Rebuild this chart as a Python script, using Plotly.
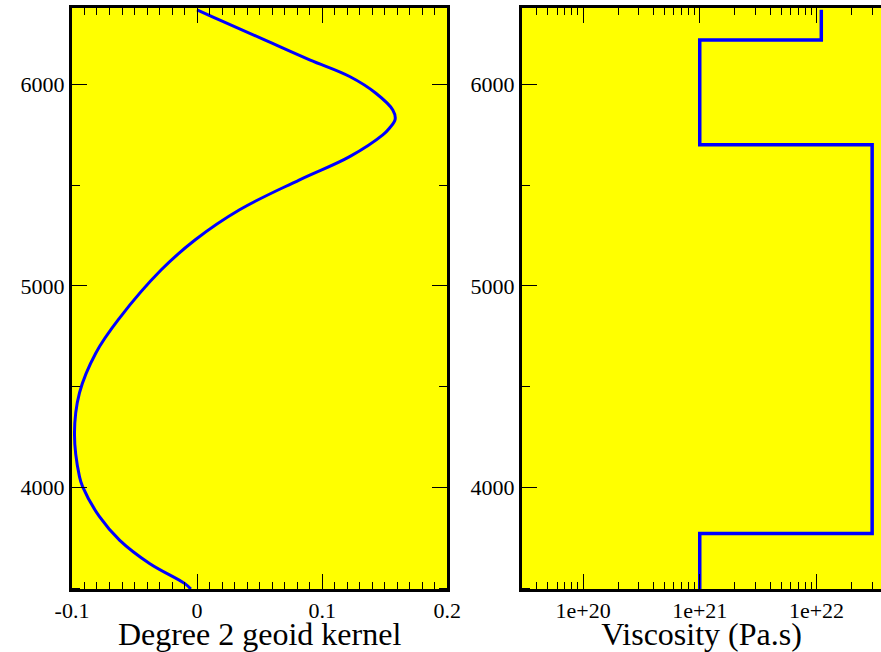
import plotly.graph_objects as go

# Degree-2 geoid kernel as a function of radius (km)
kernel_radius = [6371, 6321, 6222, 6123, 6040, 5957, 5874, 5828, 5783, 5750, 5642,
                 5527, 5378, 5229, 5080, 4840, 4666, 4469, 4268, 4053, 4003,
                 3854, 3738, 3622, 3523, 3495]
kernel_value = [0.0, 0.0178, 0.054, 0.090, 0.122, 0.143, 0.1565, 0.1584, 0.1538, 0.1485,
                0.122, 0.082, 0.034, -0.0014, -0.0286, -0.062, -0.081, -0.094,
                -0.098, -0.094, -0.0915, -0.078, -0.062, -0.038, -0.010, -0.005]

# Layered viscosity profile: layer boundaries (km) and viscosity of each layer (Pa.s)
layer_bounds = [6371, 6221, 5701, 3771, 3480]
layer_visc = [1.1e22, 1e21, 3e22, 1e21]

x1_ticks = [-0.1, 0, 0.1, 0.2]
x1_ticktext = ["-0.1", "0", "0.1", "0.2"]
x2_ticks = [1e20, 1e21, 1e22]
x2_ticktext = ["1e+20", "1e+21", "1e+22"]
y_ticks = [4000, 5000, 6000]

# build the step line from the layer table
step_x, step_y = [], []
for i, eta in enumerate(layer_visc):
    step_x += [eta, eta]
    step_y += [layer_bounds[i], layer_bounds[i + 1]]

FONT = "Liberation Serif"
BLUE = "#0000ff"
Y_RANGE = [3495, 6380]

fig = go.Figure()
fig.add_trace(go.Scatter(x=kernel_value, y=kernel_radius, mode="lines",
                         line=dict(color=BLUE, width=3, shape="spline", smoothing=1.1),
                         xaxis="x", yaxis="y", showlegend=False, hoverinfo="skip"))
fig.add_trace(go.Scatter(x=step_x, y=step_y, mode="lines",
                         line=dict(color=BLUE, width=3.5),
                         xaxis="x2", yaxis="y2", showlegend=False, hoverinfo="skip"))

decade_minor = [m * 10.0 ** e for e in range(19, 23) for m in range(2, 10)]

common = dict(showline=True, linecolor="black", linewidth=3, ticks="inside",
              tickcolor="black", tickwidth=1, showgrid=False, zeroline=False,
              automargin=False,
              tickfont=dict(family=FONT, size=22, color="black"))

fig.update_layout(
    width=881, height=652,
    margin=dict(l=0, r=0, t=0, b=0, autoexpand=False),
    font=dict(family=FONT, color="black"),
    paper_bgcolor="white", plot_bgcolor="#ffff00",
    xaxis=dict(domain=[0.0817, 0.5076], range=[-0.1, 0.2], anchor="y",
               tickmode="array", tickvals=x1_ticks, ticktext=x1_ticktext,
               ticklen=15, mirror="ticks",
               minor=dict(ticks="inside", ticklen=7, dtick=0.01, tick0=0,
                          tickcolor="black", tickwidth=1, showgrid=False),
               title=dict(text="Degree 2 geoid kernel", standoff=12,
                          font=dict(family=FONT, size=32, color="black")),
               **common),
    yaxis=dict(domain=[0.0966, 0.9877], range=Y_RANGE, anchor="x",
               tickmode="array", tickvals=y_ticks, ticklen=15, mirror="ticks",
               minor=dict(ticks="inside", ticklen=8, dtick=500, tick0=0,
                          tickcolor="black", tickwidth=1, showgrid=False),
               **common),
    xaxis2=dict(domain=[0.5925, 1.0], type="log", range=[19.477, 22.553], anchor="y2",
                tickmode="array", tickvals=x2_ticks, ticktext=x2_ticktext,
                ticklen=15, mirror="ticks",
                minor=dict(ticks="inside", ticklen=7, tickmode="array",
                           tickvals=decade_minor, tickcolor="black", tickwidth=1,
                           showgrid=False),
                title=dict(text="Viscosity (Pa.s)", standoff=12,
                           font=dict(family=FONT, size=32, color="black")),
                **common),
    yaxis2=dict(domain=[0.0966, 0.9877], range=Y_RANGE, anchor="x2",
                tickmode="array", tickvals=y_ticks, ticklen=15, mirror=False,
                minor=dict(ticks="inside", ticklen=8, dtick=500, tick0=0,
                           tickcolor="black", tickwidth=1, showgrid=False),
                **common),
)

fig.write_html("out.html")
